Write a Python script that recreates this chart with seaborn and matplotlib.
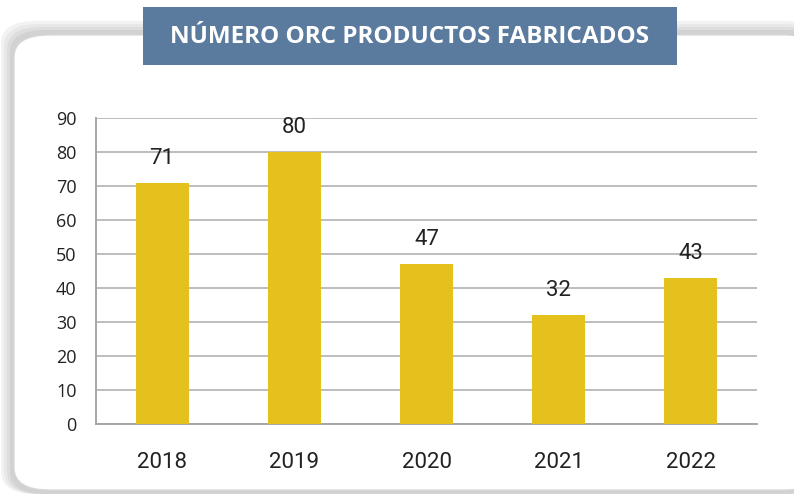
import matplotlib
matplotlib.use("Agg")
import matplotlib.pyplot as plt
from matplotlib.patches import FancyBboxPatch, Rectangle
import seaborn as sns
import pandas as pd

# data
years = ["2018", "2019", "2020", "2021", "2022"]
products = [71, 80, 47, 32, 43]
y_ticks = [0, 10, 20, 30, 40, 50, 60, 70, 80, 90]

TITLE = "NÚMERO ORC PRODUCTOS FABRICADOS"
BAR_COLOR = "#E5C11E"
TITLE_BG = "#5A7A9E"

sns.set_theme(style="white")
plt.rcParams["font.family"] = ["Roboto", "DejaVu Sans"]

W, H = 794, 498
fig = plt.figure(figsize=(W / 100, H / 100), dpi=100)
fig.patch.set_facecolor("white")

# soft shadow + white rounded panel
for i, c in enumerate(["#F2F2F2", "#E8E8E8", "#DDDDDD", "#D2D2D2"]):
    off = 12 - i * 3
    fig.patches.append(FancyBboxPatch(
        ((13 - off) / W, 1 - 494 / H), (820 - 13 + off) / W, (494 - 33 + off) / H,
        boxstyle="round,pad=0,rounding_size=0.045", transform=fig.transFigure,
        facecolor=c, edgecolor="none", zorder=0))
fig.patches.append(FancyBboxPatch(
    (14 / W, 1 - 490 / H), (820 - 14) / W, (490 - 35) / H,
    boxstyle="round,pad=0,rounding_size=0.045", transform=fig.transFigure,
    facecolor="white", edgecolor="#D6D6D6", linewidth=0.8, zorder=1))

# title box
fig.patches.append(Rectangle((143 / W, 1 - 65 / H), (677 - 143) / W, (65 - 7) / H,
                             transform=fig.transFigure, facecolor=TITLE_BG,
                             edgecolor="none", zorder=2))
fig.text(410 / W, 1 - 37 / H, TITLE, color="white", fontsize=17.5, fontweight="bold",
         family=["Open Sans", "DejaVu Sans"], ha="center", va="center", zorder=3)

ax = fig.add_axes([96 / W, 1 - 424 / H, (757 - 96) / W, (424 - 118) / H])
ax.set_facecolor("none")
ax.set_zorder(3)

df = pd.DataFrame({"year": years, "value": products})
sns.barplot(data=df, x="year", y="value", color=BAR_COLOR, width=0.4,
            saturation=1, linewidth=0, ax=ax, zorder=3)

for i, v in enumerate(products):
    ax.annotate(str(v), (i, v), xytext=(0, 10), textcoords="offset points",
                ha="center", va="bottom", fontsize=16, color="#222222")

ax.set_ylim(0, 90)
ax.set_yticks(y_ticks)
ax.set_yticklabels([str(t) for t in y_ticks], family=["Open Sans", "DejaVu Sans"],
                   fontsize=13, color="#222222")
ax.set_xlim(-0.5, 4.5)
ax.grid(axis="y", color="#BDBDBD", linewidth=1.4)
ax.set_axisbelow(True)
for s in ["top", "right"]:
    ax.spines[s].set_visible(False)
for s in ["left", "bottom"]:
    ax.spines[s].set_color("#A6A6A6")
    ax.spines[s].set_linewidth(1.4)
ax.tick_params(axis="x", labelsize=16, colors="#222222", pad=20, length=0)
ax.tick_params(axis="y", pad=14, length=0)
ax.set_xlabel("")
ax.set_ylabel("")

fig.savefig("out.png", dpi=100)
